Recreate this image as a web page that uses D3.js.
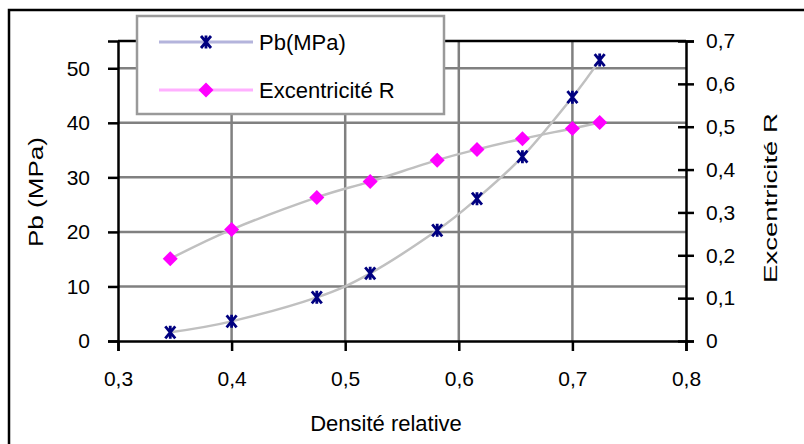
<!DOCTYPE html>
<html><head><meta charset="utf-8">
<script src="https://cdn.jsdelivr.net/npm/d3@7"></script>
<style>body{margin:0;background:#fff}svg{display:block;font-family:"Liberation Sans",Arial,sans-serif}</style>
</head><body><svg id="c" width="804" height="444"></svg>
<script>
const density = [0.346, 0.400, 0.475, 0.522, 0.581, 0.616, 0.656, 0.700, 0.724];
const pb = [1.6, 3.6, 8.0, 12.4, 20.3, 26.1, 33.8, 44.7, 51.5];
const excR = [0.192, 0.260, 0.335, 0.372, 0.422, 0.447, 0.472, 0.496, 0.510];
const xTicks = [0.3, 0.4, 0.5, 0.6, 0.7, 0.8];
const yLTicks = [0, 10, 20, 30, 40, 50];
const yRTicks = [0, 0.1, 0.2, 0.3, 0.4, 0.5, 0.6, 0.7];
const seriesNames = ["Pb(MPa)", "Excentricité R"];
const fmt = v => String(v).replace(".", ",");

const svg = d3.select("#c");
const L = 118, R = 686, T = 41, B = 341;
const x = d3.scaleLinear().domain([0.3, 0.8]).range([L, R]);
const yL = d3.scaleLinear().domain([0, 55]).range([B, T]);
const yR = d3.scaleLinear().domain([0, 0.7]).range([B, T]);

// outer border
svg.append("rect").attr("x", 9).attr("y", 10).attr("width", 820).attr("height", 460)
  .attr("fill", "none").attr("stroke", "#000").attr("stroke-width", 2.5);

// grid
const grid = svg.append("g").attr("stroke", "#808080").attr("stroke-width", 2.5);
grid.selectAll("line.v").data(xTicks.filter(d => d > 0.3 && d < 0.8)).join("line")
  .attr("x1", d => x(d)).attr("x2", d => x(d)).attr("y1", T).attr("y2", B);
grid.selectAll("line.h").data(yLTicks.filter(d => d > 0)).join("line")
  .attr("y1", d => yL(d)).attr("y2", d => yL(d)).attr("x1", L).attr("x2", R);

// top border of plot
svg.append("line").attr("x1", L).attr("x2", R).attr("y1", T).attr("y2", T).attr("stroke", "#000").attr("stroke-width", 2.5);

// axes
const fs = 21;
const xAxis = svg.append("g").attr("transform", `translate(0,${B})`)
  .call(d3.axisBottom(x).tickValues(xTicks).tickFormat(fmt).tickSize(10).tickPadding(20));
const yAxisL = svg.append("g").attr("transform", `translate(${L},0)`)
  .call(d3.axisLeft(yL).tickValues(yLTicks).tickFormat(fmt).tickSize(10).tickPadding(18));
const yAxisR = svg.append("g").attr("transform", `translate(${R},0)`)
  .call(d3.axisRight(yR).tickValues(yRTicks).tickFormat(fmt).tickSize(8).tickPadding(12));
yAxisR.selectAll(".tick line").attr("x1", -8);
[xAxis, yAxisL, yAxisR].forEach(a => {
  a.select(".domain").attr("stroke", "#000").attr("stroke-width", 2.5);
  a.selectAll(".tick line").attr("stroke", "#000").attr("stroke-width", 2.5);
  a.selectAll(".tick text").attr("fill", "#000").style("font-size", fs + "px")
    .style("font-family", '"Liberation Sans",Arial,sans-serif');
});

// axis titles
svg.append("text").attr("x", 386).attr("y", 431).attr("text-anchor", "middle")
  .style("font-size", "22px").text("Densité relative");
svg.append("text").attr("transform", "translate(43,192) rotate(-90)").attr("text-anchor", "middle")
  .attr("textLength", 110).attr("lengthAdjust", "spacingAndGlyphs")
  .style("font-size", "21px").text("Pb (MPa)");
svg.append("text").attr("transform", "translate(777,198) rotate(-90)").attr("text-anchor", "middle")
  .attr("textLength", 170).attr("lengthAdjust", "spacingAndGlyphs")
  .style("font-size", "18px").text("Excentricité R");

// lines
const curve = d3.curveCardinal.tension(0);
const pbData = density.map((d, i) => [d, pb[i]]);
const rData = density.map((d, i) => [d, excR[i]]);
svg.append("path").datum(pbData).attr("fill", "none").attr("stroke", "#c0c0c0").attr("stroke-width", 2.5)
  .attr("d", d3.line().x(d => x(d[0])).y(d => yL(d[1])).curve(curve));
svg.append("path").datum(rData).attr("fill", "none").attr("stroke", "#c0c0c0").attr("stroke-width", 2.5)
  .attr("d", d3.line().x(d => x(d[0])).y(d => yR(d[1])).curve(curve));

const starPath = "M-5,-6L5,6M5,-6L-5,6M0,-6.5L0,6.5";
const diamond = "M0,-7.5L7.5,0L0,7.5L-7.5,0Z";
svg.append("g").selectAll("path").data(pbData).join("path")
  .attr("transform", d => `translate(${x(d[0])},${yL(d[1])})`)
  .attr("d", starPath).attr("stroke", "#000080").attr("stroke-width", 2.8).attr("fill", "none");
svg.append("g").selectAll("path").data(rData).join("path")
  .attr("transform", d => `translate(${x(d[0])},${yR(d[1])})`)
  .attr("d", diamond).attr("fill", "#ff00ff");

// legend
const lg = svg.append("g");
lg.append("rect").attr("x", 137).attr("y", 16).attr("width", 307).attr("height", 98)
  .attr("fill", "#fff").attr("stroke", "#9a9a9a").attr("stroke-width", 2.5);
const legendRows = [
  {name: seriesNames[0], color: "#b4b4dc", marker: starPath, mfill: "none", mstroke: "#000080", y: 42},
  {name: seriesNames[1], color: "#ffb0ff", marker: diamond, mfill: "#ff00ff", mstroke: "none", y: 90}
];
legendRows.forEach(r => {
  lg.append("line").attr("x1", 159).attr("x2", 253).attr("y1", r.y).attr("y2", r.y)
    .attr("stroke", r.color).attr("stroke-width", 3);
  lg.append("path").attr("transform", `translate(206,${r.y})`).attr("d", r.marker)
    .attr("fill", r.mfill).attr("stroke", r.mstroke).attr("stroke-width", 2.8);
  lg.append("text").attr("x", 259).attr("y", r.y + 8).style("font-size", "22px").text(r.name);
});
</script></body></html>
